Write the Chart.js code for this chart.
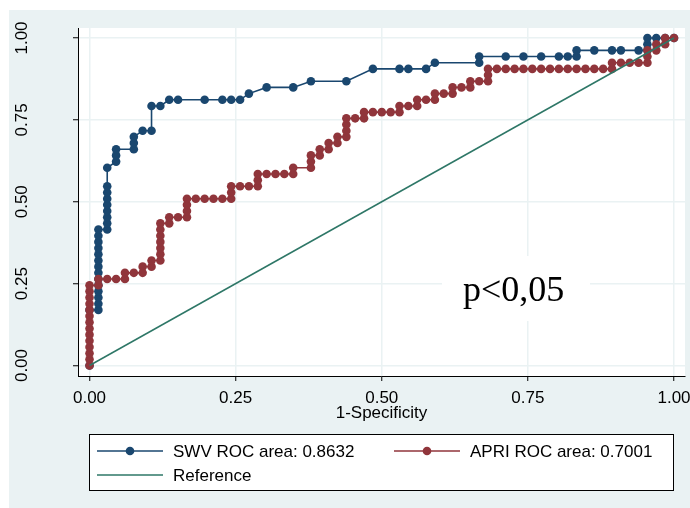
<!DOCTYPE html>
<html>
<head>
<meta charset="utf-8">
<script src="https://cdn.jsdelivr.net/npm/chart.js@4.4.1/dist/chart.umd.min.js"></script>
<style>
  body { margin: 0; background: #fff; }
  canvas { display: block; }
</style>
</head>
<body>
<canvas id="roc_chart" width="690" height="508"></canvas>
<script>
// ROC curves: SWV vs APRI, one point per cutoff

const swvFpr = [
    0, 0,
    .0152, .0152, .0152, .0152, .0152, .0152, .0152, .0152, .0152, .0152, .0152, .0152, .0152, .0152,
    .0303, .0303, .0303, .0303, .0303, .0303, .0303, .0303, .0303,
    .0455, .0455, .0455,
    .0758, .0758, .0758,
    .0909,
    .1061, .1061,
    .1212,
    .1364, .1515, .1970, .2273, .2424, .2576,
    .2727,
    .3030, .3485,
    .3788, .4394,
    .4848, .5303, .5455, .5758,
    .5909,
    .6667, .6667,
    .7121, .7424, .7727, .8030, .8182,
    .8333, .8333,
    .8636, .8939, .9091, .9394,
    .9545, .9545, .9545,
    .9697, .9848, 1
];
const swvTpr = [
    0, .1698,
    .1698, .1887, .2075, .2264, .2453, .2642, .2830, .3019, .3208, .3396, .3585, .3774, .3962, .4151,
    .4151, .4340, .4528, .4717, .4906, .5094, .5283, .5472, .6038,
    .6226, .6415, .6604,
    .6604, .6792, .6981,
    .7170,
    .7170, .7925,
    .7925,
    .8113, .8113, .8113, .8113, .8113, .8113,
    .8302,
    .8491, .8491,
    .8679, .8679,
    .9057, .9057, .9057, .9057,
    .9245,
    .9245, .9434,
    .9434, .9434, .9434, .9434, .9434,
    .9434, .9623,
    .9623, .9623, .9623, .9623,
    .9623, .9811, 1,
    1, 1, 1
];

const apriFpr = [
    0, 0, 0, 0, 0, 0, 0, 0, 0, 0, 0, 0, 0, 0,
    .0152, .0152,
    .0303, .0455,
    .0606, .0606,
    .0758,
    .0909, .0909,
    .1061, .1061,
    .1212, .1212, .1212, .1212, .1212, .1212, .1212,
    .1364, .1364,
    .1515,
    .1667, .1667, .1667, .1667,
    .1818, .1970, .2121, .2273,
    .2424, .2424, .2424,
    .2576, .2727,
    .2879, .2879, .2879,
    .3030, .3182, .3333,
    .3485, .3485,
    .3788, .3788, .3788,
    .3939, .3939,
    .4091, .4091,
    .4242, .4242,
    .4394, .4394, .4394, .4394,
    .4545,
    .4697, .4697,
    .4848, .5000, .5152,
    .5303, .5303,
    .5455,
    .5606, .5606,
    .5758,
    .5909, .5909,
    .6061,
    .6212, .6212,
    .6364,
    .6515, .6515,
    .6667,
    .6818, .6818, .6818,
    .6970, .7121, .7273, .7424, .7576, .7727, .7879, .8030, .8182, .8333, .8485, .8636, .8788,
    .8939, .8939,
    .9091, .9242, .9394,
    .9545, .9545, .9545,
    .9697, .9697,
    .9848, .9848,
    1
];
const apriTpr = [
    0, .0189, .0377, .0566, .0755, .0943, .1132, .1321, .1509, .1698, .1887, .2075, .2264, .2453,
    .2453, .2642,
    .2642, .2642,
    .2642, .2830,
    .2830,
    .2830, .3019,
    .3019, .3208,
    .3208, .3396, .3585, .3774, .3962, .4151, .4340,
    .4340, .4528,
    .4528,
    .4528, .4717, .4906, .5094,
    .5094, .5094, .5094, .5094,
    .5094, .5283, .5472,
    .5472, .5472,
    .5472, .5660, .5849,
    .5849, .5849, .5849,
    .5849, .6038,
    .6038, .6226, .6415,
    .6415, .6604,
    .6604, .6792,
    .6792, .6981,
    .6981, .7170, .7358, .7547,
    .7547,
    .7547, .7736,
    .7736, .7736, .7736,
    .7736, .7925,
    .7925,
    .7925, .8113,
    .8113,
    .8113, .8302,
    .8302,
    .8302, .8491,
    .8491,
    .8491, .8679,
    .8679,
    .8679, .8868, .9057,
    .9057, .9057, .9057, .9057, .9057, .9057, .9057, .9057, .9057, .9057, .9057, .9057, .9057,
    .9057, .9245,
    .9245, .9245, .9245,
    .9245, .9434, .9623,
    .9623, .9811,
    .9811, 1,
    1
];

const refFpr = [0, 1];
const refTpr = [0, 1];

const axisTicks = [0, 0.25, 0.5, 0.75, 1];
const seriesLabels = ['SWV ROC area: 0.8632', 'APRI ROC area: 0.7001', 'Reference'];
const xTitle = '1-Specificity';
const noteText = 'p<0,05';

const navy = '#1a476f';
const maroon = '#90353b';
const teal = '#2e7767';
const bgBlue = '#eaf2f3';
const sansFont = "'Liberation Sans', Arial, sans-serif";
const serifFont = "'Liberation Serif', 'Times New Roman', serif";

const toPoints = (xs, ys) => xs.map((x, i) => ({x: x, y: ys[i]}));

// light graph region, white plot region
const backdrop = {
    id: 'backdrop',
    beforeDraw: (chart) => {
        const {ctx, chartArea: a} = chart;
        ctx.save();
        ctx.fillStyle = '#fff';
        ctx.fillRect(0, 0, chart.width, chart.height);
        ctx.fillStyle = bgBlue;
        ctx.fillRect(9, 10, chart.width - 9, chart.height - 10);
        ctx.fillStyle = '#fff';
        ctx.fillRect(a.left, a.top, a.right - a.left, a.bottom - a.top);
        ctx.restore();
    }
};

// text box over the grid
const noteBox = {
    id: 'noteBox',
    beforeDatasetsDraw: (chart) => {
        const ctx = chart.ctx;
        ctx.save();
        ctx.fillStyle = '#fff';
        ctx.fillRect(442, 256, 148, 65);
        ctx.fillStyle = '#000';
        ctx.font = '36px ' + serifFont;
        ctx.textAlign = 'left';
        ctx.textBaseline = 'alphabetic';
        ctx.fillText(noteText, 463, 301);
        ctx.restore();
    }
};

// y tick labels run vertically
const yTickLabels = {
    id: 'yTickLabels',
    afterDraw: (chart) => {
        const {ctx} = chart;
        const y = chart.scales.y;
        ctx.save();
        ctx.fillStyle = '#000';
        ctx.font = '17px ' + sansFont;
        ctx.textAlign = 'center';
        ctx.textBaseline = 'middle';
        axisTicks.forEach((v) => {
            ctx.save();
            ctx.translate(22, y.getPixelForValue(v));
            ctx.rotate(-Math.PI / 2);
            ctx.fillText(v.toFixed(2), 0, 0);
            ctx.restore();
        });
        ctx.restore();
    }
};

// boxed legend under the axis title
const legendBox = {
    id: 'legendBox',
    afterDraw: (chart) => {
        const ctx = chart.ctx;
        const colors = [navy, maroon, teal];
        const spots = [[97, 451, true], [394, 451, true], [97, 475, false]];
        ctx.save();
        ctx.fillStyle = '#fff';
        ctx.fillRect(89.5, 434.5, 584, 56);
        ctx.strokeStyle = '#000';
        ctx.lineWidth = 1;
        ctx.strokeRect(89.5, 434.5, 584, 56);
        ctx.font = '17px ' + sansFont;
        ctx.textAlign = 'left';
        ctx.textBaseline = 'middle';
        spots.forEach(([x, y, dot], i) => {
            ctx.strokeStyle = colors[i];
            ctx.lineWidth = 1.6;
            ctx.beginPath();
            ctx.moveTo(x, y);
            ctx.lineTo(x + 66, y);
            ctx.stroke();
            if (dot) {
                ctx.fillStyle = colors[i];
                ctx.beginPath();
                ctx.arc(x + 33, y, 4.3, 0, Math.PI * 2);
                ctx.fill();
            }
            ctx.fillStyle = '#000';
            ctx.fillText(seriesLabels[i], x + 76, y + 1);
        });
        ctx.restore();
    }
};

const gridOpts = {color: bgBlue, lineWidth: 1.5, tickColor: '#000', tickWidth: 1, tickLength: 5};
const setTicks = (scale) => { scale.ticks = axisTicks.map(v => ({value: v})); };

new Chart('roc_chart', {
    type: 'scatter',
    data: {
        datasets: [{
            label: seriesLabels[0],
            data: toPoints(swvFpr, swvTpr),
            showLine: true,
            borderColor: navy,
            backgroundColor: navy,
            borderWidth: 1.6,
            pointRadius: 4.3,
            pointBorderWidth: 0,
            order: 2
        }, {
            label: seriesLabels[1],
            data: toPoints(apriFpr, apriTpr),
            showLine: true,
            borderColor: maroon,
            backgroundColor: maroon,
            borderWidth: 1.6,
            pointRadius: 4.3,
            pointBorderWidth: 0,
            order: 1
        }, {
            label: seriesLabels[2],
            data: toPoints(refFpr, refTpr),
            showLine: true,
            borderColor: teal,
            borderWidth: 1.5,
            pointRadius: 0,
            order: 0
        }]
    },
    options: {
        responsive: false,
        animation: false,
        devicePixelRatio: 1,
        layout: {padding: {top: 28, right: 5, left: 0, bottom: 0}},
        plugins: {legend: {display: false}, tooltip: {enabled: false}},
        scales: {
            x: {
                type: 'linear',
                min: -0.0197,
                max: 1.0188,
                afterBuildTicks: setTicks,
                afterFit: (s) => {
                    // keep the plot edges fixed, end labels may run out
                    s.height = 132;
                    s.paddingLeft = 0;
                    s.paddingRight = 0;
                },
                ticks: {
                    callback: (v) => v.toFixed(2),
                    font: {family: sansFont, size: 17},
                    color: '#000',
                    padding: 7,
                    maxRotation: 0,
                    autoSkip: false
                },
                grid: gridOpts,
                border: {color: '#000', width: 1},
                title: {
                    display: true,
                    text: xTitle,
                    font: {family: sansFont, size: 17},
                    color: '#000',
                    padding: {top: 0, bottom: 84}
                }
            },
            y: {
                type: 'linear',
                min: -0.032,
                max: 1.0305,
                afterBuildTicks: setTicks,
                afterFit: (s) => {
                    s.width = 78;
                    s.paddingTop = 0;
                    s.paddingBottom = 0;
                },
                ticks: {display: false},
                grid: gridOpts,
                border: {color: '#000', width: 1}
            }
        }
    },
    plugins: [backdrop, noteBox, yTickLabels, legendBox]
});
</script>
</body>
</html>
